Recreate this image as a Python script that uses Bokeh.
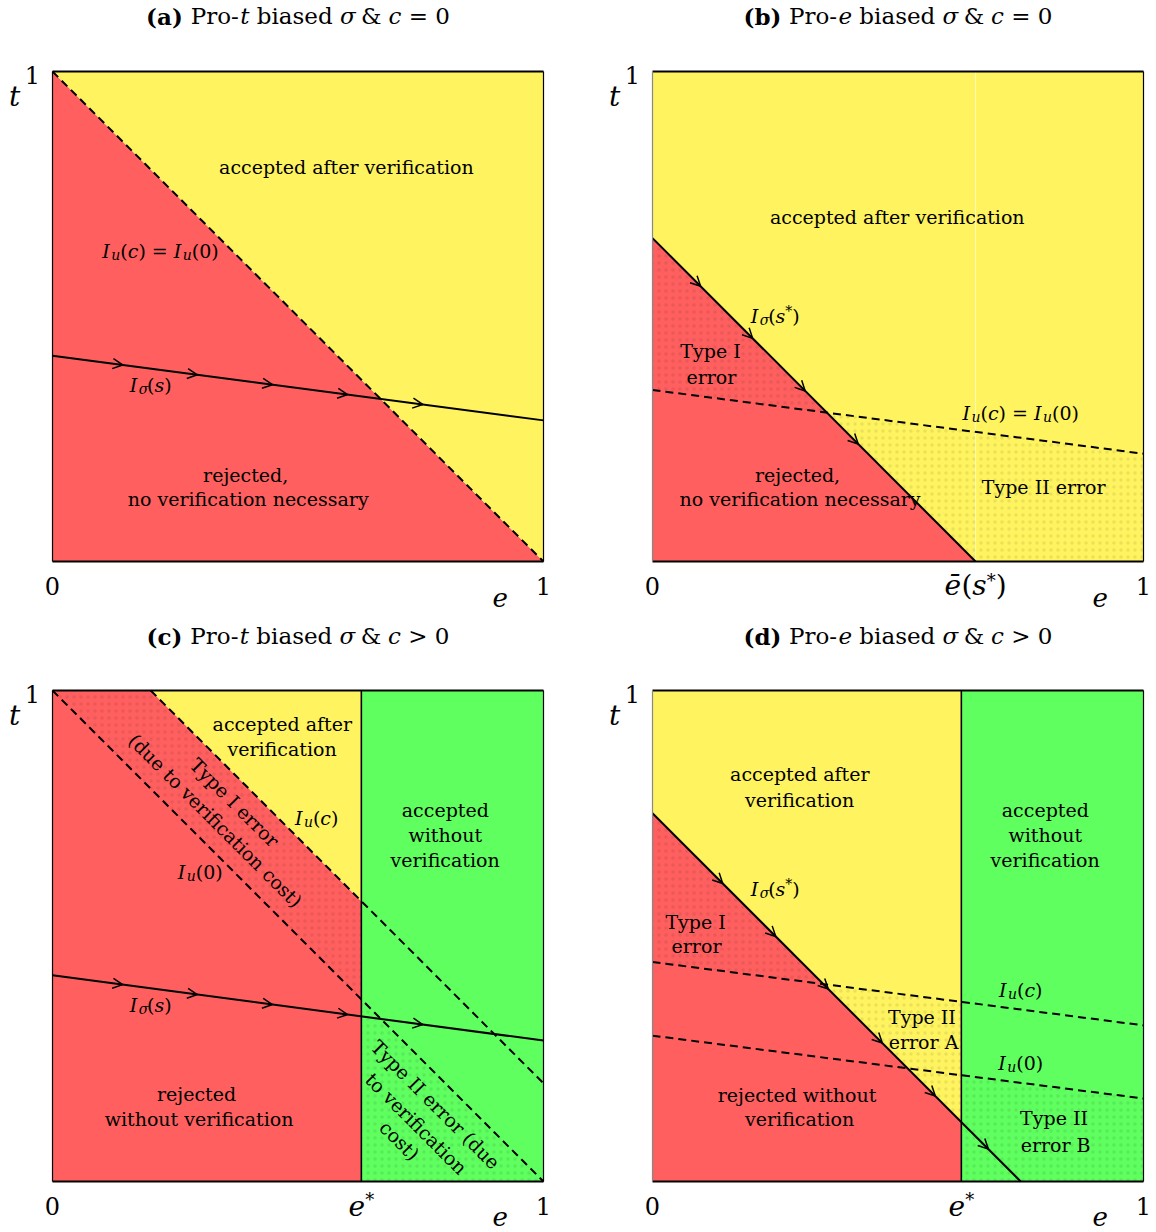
import numpy as np
from bokeh.plotting import figure
from bokeh.models import ColumnDataSource, Arrow, OpenHead
from bokeh.layouts import gridplot
from bokeh.core.properties import value
from bokeh.embed import file_html
from bokeh.resources import INLINE

# ---------------- data (unit square: e on x, t on y) ----------------
# line = (e0, t0, e1, t1)
A_U = (0.0, 1.0, 1.0, 0.0)          # I_u(c) = I_u(0)
A_S = (0.0, 0.42, 1.0, 0.288)       # I_sigma(s)
A_ARROWS = [0.143, 0.295, 0.448, 0.601, 0.754]

B_S = (0.0, 0.66, 0.658, 0.0)       # I_sigma(s*)
B_U = (0.0, 0.35, 1.0, 0.22)        # I_u(c) = I_u(0)
B_ARROWS = [0.098, 0.204, 0.311, 0.419]
B_EBAR = 0.658

C_ESTAR = 0.629
C_UC = (0.2, 1.0, 1.0, 0.2)         # I_u(c)
C_U0 = (0.0, 1.0, 1.0, 0.0)         # I_u(0)
C_S = (0.0, 0.42, 1.0, 0.287)       # I_sigma(s)
C_ARROWS = [0.143, 0.295, 0.448, 0.601, 0.754]

D_ESTAR = 0.629
D_S = (0.0, 0.75, 0.75, 0.0)        # I_sigma(s*)
D_UC = (0.0, 0.447, 1.0, 0.318)     # I_u(c)
D_U0 = (0.0, 0.297, 1.0, 0.169)     # I_u(0)
D_ARROWS = [0.143, 0.251, 0.358, 0.468, 0.576, 0.684]

TITLES = [["(a)", " Pro-", "t", " biased ", "σ", " & ", "c", " = 0"],
          ["(b)", " Pro-", "e", " biased ", "σ", " & ", "c", " = 0"],
          ["(c)", " Pro-", "t", " biased ", "σ", " & ", "c", " > 0"],
          ["(d)", " Pro-", "e", " biased ", "σ", " & ", "c", " > 0"]]
TITLE_STYLES = ["b", "n", "i", "n", "i", "n", "i", "n"]

RED = "#FF5F5F"
YELLOW = "#FFF45F"
GREEN = "#5FFF5F"
FONT = "DejaVu Serif"
FIG_W, FIG_H = 578, 616

# ---------------- geometry helpers ----------------
def slope(l):
    e0, t0, e1, t1 = l
    return (t1 - t0) / (e1 - e0)

def at(l, e):
    return l[1] + slope(l) * (e - l[0])

def below(l):
    return lambda e, t: t - at(l, e)

def above(l):
    return lambda e, t: at(l, e) - t

def left_of(x):
    return lambda e, t: e - x

def right_of(x):
    return lambda e, t: x - e

def clip(poly, f):
    out = []
    n = len(poly)
    for i in range(n):
        p, q = poly[i], poly[(i + 1) % n]
        fp, fq = f(*p), f(*q)
        if fp <= 0:
            out.append(p)
        if (fp < 0 < fq) or (fq < 0 < fp):
            s = fp / (fp - fq)
            out.append((p[0] + s * (q[0] - p[0]), p[1] + s * (q[1] - p[1])))
    return out

SQUARE = [(0.0, 0.0), (1.0, 0.0), (1.0, 1.0), (0.0, 1.0)]

def region(*fs):
    poly = SQUARE
    for f in fs:
        poly = clip(poly, f)
    return [pt[0] for pt in poly], [pt[1] for pt in poly]

# ---------------- text width tables (em) ----------------
W_N = {' ': .318, '(': .390, ')': .390, '*': .500, '=': .838, '>': .838, ',': .318, '-': .338,
       '&': .872, 'a': .596, 'b': .640, 'c': .560, 'd': .640, 'e': .592, 'f': .370, 'g': .640,
       'h': .644, 'i': .320, 'l': .320, 'n': .644, 'o': .602, 'p': .640, 'r': .478, 's': .513,
       't': .402, 'u': .644, 'v': .565, 'w': .856, 'x': .564, 'y': .565, 'A': .722, 'B': .735,
       'I': .472, 'P': .733, 'T': .681}
for dgt in "0123456789":
    W_N[dgt] = .636
W_B = {'(': .473, ')': .473, 'a': .675, 'b': .710, 'c': .640, 'd': .710}

def tw(s, style, size):
    tab = W_B if style == "b" else W_N
    return sum(tab.get(ch, W_N.get(ch, .60)) for ch in s) * size

class Texts:
    def __init__(self, p, ux, uy):
        self.p, self.ux, self.uy = p, ux, uy
        self.d = {k: dict(x=[], y=[], text=[], size=[]) for k in "nib"}
        self.r = dict(x=[], y=[], text=[], angle=[])

    def add(self, cx, cy, runs, base=None):
        # runs: list of (text, style, size, shift_up_px)
        if base is None:
            base = runs[0][2]
        total = 0.0
        for txt, st, sz, sh in runs:
            total += tw(txt, st, sz)
        cur = -total / 2.0
        ybase = cy + (0.05 * base) / self.uy
        for txt, st, sz, sh in runs:
            lead = len(txt) - len(txt.lstrip(' '))
            trail = len(txt) - len(txt.rstrip(' '))
            core = txt.strip(' ')
            cur += lead * W_N[' '] * sz
            if core:
                dd = self.d[st]
                dd['x'].append(cx + cur / self.ux)
                dd['y'].append(ybase + sh / self.uy)
                dd['text'].append(core)
                dd['size'].append(f"{sz}px")
                cur += tw(core, st, sz)
            cur += trail * W_N[' '] * sz

    def plain(self, cx, cy, txt, size=19, style="n"):
        self.add(cx, cy, [(txt, style, size, 0)])

    def rot(self, cx, cy, txt, angle):
        self.r['x'].append(cx)
        self.r['y'].append(cy)
        self.r['text'].append(txt)
        self.r['angle'].append(angle)

    def render(self):
        names = {"n": "normal", "i": "italic", "b": "bold"}
        for k, dd in self.d.items():
            if dd['x']:
                self.p.text(x='x', y='y', text='text', source=ColumnDataSource(dd),
                            text_font=value(FONT), text_font_style=names[k],
                            text_font_size='size', text_align='left',
                            text_baseline='alphabetic', text_color='black')
        if self.r['x']:
            self.p.text(x='x', y='y', text='text', angle='angle', source=ColumnDataSource(self.r),
                        text_font=value(FONT), text_font_size="19px", text_align='center',
                        text_baseline='middle', text_color='black')

# math label builders
def I_lbl(sub, arg, star=False, size=19):
    runs = [("I", "i", size, 0), (sub, "i", 14, -4), ("(", "n", size, 0)]
    if arg in ("c", "s"):
        runs.append((arg, "i", size, 0))
    else:
        runs.append((arg, "n", size, 0))
    if star:
        runs.append(("*", "n", 14, 5))
    runs.append((")", "n", size, 0))
    return runs

def make_fig(L, T, fig_left, fig_top, ux, uy):
    x0 = -(L - fig_left) / ux
    x1 = x0 + FIG_W / ux
    y1 = 1 + (T - fig_top) / uy
    y0 = y1 - FIG_H / uy
    p = figure(width=FIG_W, height=FIG_H, x_range=(x0, x1), y_range=(y0, y1),
               output_backend="svg", toolbar_location=None, min_border=0,
               x_axis_location=None, y_axis_location=None)
    p.grid.visible = False
    p.outline_line_color = None
    p.background_fill_color = "white"
    p.border_fill_color = "white"
    return p

def fill(p, color, polys):
    p.patches([q[0] for q in polys], [q[1] for q in polys], fill_color=color, line_color=None)

def hatch(p, polys):
    p.patches([q[0] for q in polys], [q[1] for q in polys], fill_color=None, line_color=None,
              hatch_pattern=".", hatch_scale=7, hatch_weight=1.0, hatch_color="black", hatch_alpha=0.08)

def draw_line(p, l, dashed=False):
    e0, t0, e1, t1 = l
    if dashed:
        p.line([e0, e1], [t0, t1], line_color="black", line_width=2.0, line_dash="8 5")
    else:
        p.line([e0, e1], [t0, t1], line_color="black", line_width=2.0)

def arrows(p, l, es):
    m = slope(l)
    d = 0.012 / np.sqrt(1 + m * m)
    src = ColumnDataSource(dict(xs=[e - d for e in es], ys=[at(l, e) - m * d for e in es],
                                xe=list(es), ye=[at(l, e) for e in es]))
    p.add_layout(Arrow(end=OpenHead(size=10, line_width=1.5, line_color="black"),
                       x_start='xs', y_start='ys', x_end='xe', y_end='ye', source=src,
                       line_alpha=0))

def frame(p, left_color="black"):
    p.line([0, 1], [1, 1], line_color="black", line_width=2.0)
    p.line([0, 1], [0, 0], line_color="black", line_width=2.0)
    p.line([1, 1], [0, 1], line_color="black", line_width=1.2)
    p.line([0, 0], [0, 1], line_color=left_color, line_width=1.2)

def vline(p, x, color="black", width=1.6, alpha=1.0):
    p.line([x, x], [0, 1], line_color=color, line_width=width, line_alpha=alpha)

def common_text(T, idx, ticks, ty, ey):
    # title
    T.add(0.5, ty, [(s, st, 23, 0) for s, st in zip(TITLES[idx], TITLE_STYLES)])
    # axis labels
    T.add(-0.077, 0.947, [("t", "i", 28, 0)])
    T.add(-0.041, 0.99, [("1", "n", 24, 0)])
    T.add(0.912, ey, [("e", "i", 26, 0)])
    for x, runs in ticks:
        T.add(x, -0.052, runs)

# figure origins on the page: (0,0), (578,0), (0,616), (578,616)
# ---------------- panel (a) ----------------
pa = make_fig(52, 71, 0, 0, 491, 490)
fill(pa, RED, [region(below(A_U))])
fill(pa, YELLOW, [region(above(A_U))])
draw_line(pa, A_U, dashed=True)
draw_line(pa, A_S)
frame(pa)
arrows(pa, A_S, A_ARROWS)
Ta = Texts(pa, 491, 490)
common_text(Ta, 0, [(0.0, [("0", "n", 24, 0)]), (1.0, [("1", "n", 24, 0)])], 1.110, -0.077)
Ta.plain(0.599, 0.804, "accepted after verification")
Ta.add(0.22, 0.631, I_lbl("u", "c") + [(" = ", "n", 19, 0)] + I_lbl("u", "0"))
Ta.add(0.20, 0.359, I_lbl("σ", "s"))
Ta.plain(0.399, 0.1755, "rejected,")
Ta.plain(0.399, 0.1265, "no verification necessary")
Ta.render()

# ---------------- panel (b) ----------------
pb = make_fig(652, 71, 578, 0, 491, 490)
fill(pb, RED, [region(below(B_S))])
fill(pb, YELLOW, [region(above(B_S))])
hatch(pb, [region(below(B_S), above(B_U)), region(above(B_S), below(B_U))])
vline(pb, B_EBAR, color="white", width=1.0, alpha=0.55)
draw_line(pb, B_U, dashed=True)
draw_line(pb, B_S)
frame(pb, left_color="#888888")
arrows(pb, B_S, B_ARROWS)
Tb = Texts(pb, 491, 490)
common_text(Tb, 1, [(0.0, [("0", "n", 24, 0)]), (1.0, [("1", "n", 24, 0)]),
                    (B_EBAR, [("ē", "i", 28, 0), ("(", "n", 28, 0), ("s", "i", 28, 0),
                              ("*", "n", 18, 5), (")", "n", 28, 0)])], 1.110, -0.077)
Tb.plain(0.499, 0.702, "accepted after verification")
Tb.add(0.25, 0.50, I_lbl("σ", "s", star=True))
Tb.plain(0.12, 0.4286, "Type I")
Tb.plain(0.12, 0.3755, "error")
Tb.add(0.75, 0.302, I_lbl("u", "c") + [(" = ", "n", 19, 0)] + I_lbl("u", "0"))
Tb.plain(0.301, 0.1755, "rejected,")
Tb.plain(0.301, 0.1265, "no verification necessary")
Tb.plain(0.80, 0.151, "Type II error")
Tb.render()

# ---------------- panel (c) ----------------
pc = make_fig(52, 690, 0, 616, 491, 491)
fill(pc, RED, [region(left_of(C_ESTAR), below(C_UC))])
fill(pc, YELLOW, [region(left_of(C_ESTAR), above(C_UC))])
fill(pc, GREEN, [region(right_of(C_ESTAR))])
hatch(pc, [region(left_of(C_ESTAR), below(C_UC), above(C_U0)),
           region(right_of(C_ESTAR), below(C_U0))])
draw_line(pc, C_UC, dashed=True)
draw_line(pc, C_U0, dashed=True)
draw_line(pc, C_S)
vline(pc, C_ESTAR)
frame(pc)
arrows(pc, C_S, C_ARROWS)
Tc = Texts(pc, 491, 491)
common_text(Tc, 2, [(0.0, [("0", "n", 24, 0)]), (1.0, [("1", "n", 24, 0)]),
                    (C_ESTAR, [("e", "i", 28, 0), ("*", "n", 18, 6)])], 1.108, -0.074)
Tc.plain(0.468, 0.929, "accepted after")
Tc.plain(0.468, 0.878, "verification")
Tc.add(0.538, 0.739, I_lbl("u", "c"))
Tc.plain(0.80, 0.754, "accepted")
Tc.plain(0.80, 0.703, "without")
Tc.plain(0.80, 0.652, "verification")
ANG = -np.pi / 4
Tc.rot(0.371, 0.772, "Type I error", ANG)
Tc.rot(0.332, 0.735, "(due to verification cost)", ANG)
Tc.add(0.301, 0.629, I_lbl("u", "0"))
Tc.add(0.20, 0.358, I_lbl("σ", "s"))
Tc.plain(0.299, 0.177, "rejected")
Tc.plain(0.299, 0.126, "without verification")
Tc.rot(0.780, 0.157, "Type II error (due", ANG)
Tc.rot(0.741, 0.118, "to verification", ANG)
Tc.rot(0.707, 0.0835, "cost)", ANG)
Tc.render()

# ---------------- panel (d) ----------------
pd_ = make_fig(652, 690, 578, 616, 491, 491)
fill(pd_, RED, [region(left_of(D_ESTAR), below(D_S))])
fill(pd_, YELLOW, [region(left_of(D_ESTAR), above(D_S))])
fill(pd_, GREEN, [region(right_of(D_ESTAR))])
hatch(pd_, [region(left_of(D_ESTAR), below(D_S), above(D_UC)),
            region(left_of(D_ESTAR), above(D_S), below(D_UC)),
            region(right_of(D_ESTAR), below(D_U0))])
draw_line(pd_, D_UC, dashed=True)
draw_line(pd_, D_U0, dashed=True)
draw_line(pd_, D_S)
vline(pd_, D_ESTAR)
frame(pd_, left_color="#888888")
arrows(pd_, D_S, D_ARROWS)
Td = Texts(pd_, 491, 491)
common_text(Td, 3, [(0.0, [("0", "n", 24, 0)]), (1.0, [("1", "n", 24, 0)]),
                    (D_ESTAR, [("e", "i", 28, 0), ("*", "n", 18, 6)])], 1.108, -0.074)
Td.plain(0.30, 0.827, "accepted after")
Td.plain(0.30, 0.776, "verification")
Td.plain(0.80, 0.754, "accepted")
Td.plain(0.80, 0.703, "without")
Td.plain(0.80, 0.652, "verification")
Td.add(0.25, 0.593, I_lbl("σ", "s", star=True))
Td.plain(0.0896, 0.527, "Type I")
Td.plain(0.0896, 0.477, "error")
Td.add(0.75, 0.389, I_lbl("u", "c"))
Td.plain(0.552, 0.334, "Type II")
Td.plain(0.552, 0.283, "error A")
Td.add(0.75, 0.24, I_lbl("u", "0"))
Td.plain(0.30, 0.175, "rejected without")
Td.plain(0.30, 0.126, "verification")
Td.plain(0.821, 0.128, "Type II")
Td.plain(0.821, 0.073, "error B")
Td.render()

grid = gridplot([[pa, pb], [pc, pd_]], toolbar_location=None)
open("out.html", "w").write(file_html(grid, INLINE))
